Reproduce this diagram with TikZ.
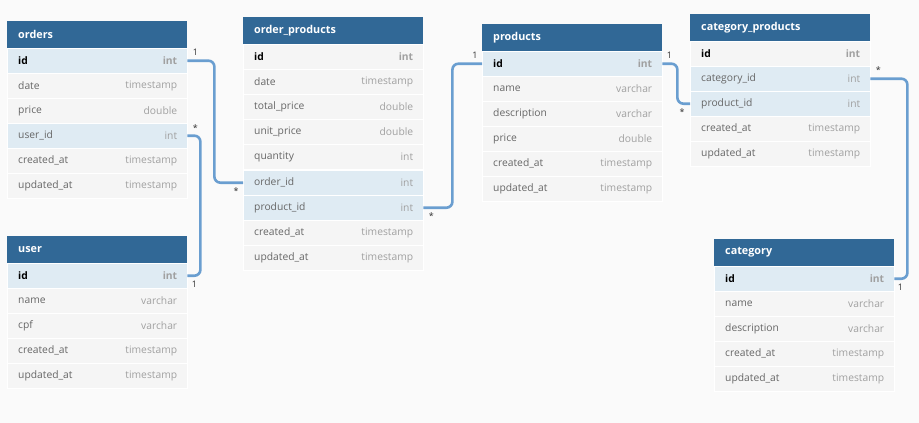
\documentclass[tikz,border=0pt]{standalone}
\usepackage{fontspec}
\setmainfont{Open Sans}
\usetikzlibrary{positioning}

\definecolor{canvas}{HTML}{FAFAFA}
\definecolor{headbg}{HTML}{316896}
\definecolor{rowbg}{HTML}{F5F5F5}
\definecolor{keybg}{HTML}{DFEBF3}
\definecolor{fieldcol}{HTML}{666666}
\definecolor{typecol}{HTML}{A0A0A0}
\definecolor{linkcol}{HTML}{6A9ED0}
\definecolor{cardcol}{HTML}{333333}

\tikzset{
  x=1pt, y=-1pt,
  head/.style={rectangle, fill=headbg, minimum width=180pt, minimum height=27pt, inner sep=0pt, anchor=north west},
  headtxt/.style={font=\fontsize{10.8}{12}\selectfont\bfseries, text=white, inner sep=0pt, anchor=west},
  plainrow/.style={fill=rowbg},
  keyrow/.style={fill=keybg},
  row/.style={rectangle, minimum width=180pt, minimum height=25pt, inner sep=0pt, anchor=north west, draw=white, line width=0.4pt},
  fieldtxt/.style={font=\fontsize{10.3}{12}\selectfont, text=fieldcol, inner sep=0pt, anchor=west},
  typetxt/.style={font=\fontsize{10.3}{12}\selectfont, text=typecol, inner sep=0pt, anchor=east},
  pkfield/.style={fieldtxt, font=\fontsize{10.3}{12}\selectfont\bfseries, text=black},
  pktype/.style={typetxt, font=\fontsize{10.3}{12}\selectfont\bfseries},
  link/.style={draw=linkcol, line width=2.6pt, rounded corners=6pt},
  card/.style={font=\fontsize{9}{10}\selectfont, text=cardcol, inner sep=0pt},
}

% table header: #1 name, #2 x, #3 y, #4 title
\newcommand\erhead[4]{%
  \node[head] (#1) at (#2,#3) {};
  \node[headtxt] (#1-title) at ([xshift=11pt]#1.west) {#4};
}
% table row: #1 name, #2 x, #3 y, #4 row style, #5 field, #6 type
\newcommand\errow[6]{%
  \node[row,#4] (#1) at (#2,#3) {};
  \node[fieldtxt] (#1-n) at ([xshift=11pt]#1.west) {#5};
  \node[typetxt] (#1-t) at ([xshift=-10pt]#1.east) {#6};
}
% primary key row: #1 name, #2 x, #3 y, #4 row style
\newcommand\erpk[4]{%
  \node[row,#4] (#1) at (#2,#3) {};
  \node[pkfield] (#1-n) at ([xshift=11pt]#1.west) {id};
  \node[pktype] (#1-t) at ([xshift=-10pt]#1.east) {int};
}

\begin{document}
\begin{tikzpicture}
\fill[canvas] (0,0) rectangle (919,423);
\useasboundingbox (0,0) rectangle (919,423);

% orders
\erhead{orders}{7}{21}{orders}
\erpk{orders-id}{7}{48}{keyrow}
\errow{orders-date}{7}{73}{plainrow}{date}{timestamp}
\errow{orders-price}{7}{98}{plainrow}{price}{double}
\errow{orders-userid}{7}{123}{keyrow}{user\_id}{int}
\errow{orders-created}{7}{148}{plainrow}{created\_at}{timestamp}
\errow{orders-updated}{7}{173}{plainrow}{updated\_at}{timestamp}

% user
\erhead{user}{7}{236}{user}
\erpk{user-id}{7}{263}{keyrow}
\errow{user-name}{7}{288}{plainrow}{name}{varchar}
\errow{user-cpf}{7}{313}{plainrow}{cpf}{varchar}
\errow{user-created}{7}{338}{plainrow}{created\_at}{timestamp}
\errow{user-updated}{7}{363}{plainrow}{updated\_at}{timestamp}

% order_products
\erhead{op}{243}{17}{order\_products}
\erpk{op-id}{243}{44}{plainrow}
\errow{op-date}{243}{69}{plainrow}{date}{timestamp}
\errow{op-total}{243}{94}{plainrow}{total\_price}{double}
\errow{op-unit}{243}{119}{plainrow}{unit\_price}{double}
\errow{op-qty}{243}{144}{plainrow}{quantity}{int}
\errow{op-orderid}{243}{170}{keyrow}{order\_id}{int}
\errow{op-productid}{243}{195}{keyrow}{product\_id}{int}
\errow{op-created}{243}{220}{plainrow}{created\_at}{timestamp}
\errow{op-updated}{243}{245}{plainrow}{updated\_at}{timestamp}

% products
\erhead{products}{482}{24}{products}
\erpk{products-id}{482}{51}{keyrow}
\errow{products-name}{482}{76}{plainrow}{name}{varchar}
\errow{products-desc}{482}{101}{plainrow}{description}{varchar}
\errow{products-price}{482}{126}{plainrow}{price}{double}
\errow{products-created}{482}{151}{plainrow}{created\_at}{timestamp}
\errow{products-updated}{482}{176}{plainrow}{updated\_at}{timestamp}

% category_products
\erhead{cp}{690}{14}{category\_products}
\erpk{cp-id}{690}{41}{plainrow}
\errow{cp-categoryid}{690}{66}{keyrow}{category\_id}{int}
\errow{cp-productid}{690}{91}{keyrow}{product\_id}{int}
\errow{cp-created}{690}{116}{plainrow}{created\_at}{timestamp}
\errow{cp-updated}{690}{141}{plainrow}{updated\_at}{timestamp}

% category
\erhead{category}{714}{239}{category}
\erpk{category-id}{714}{266}{keyrow}
\errow{category-name}{714}{291}{plainrow}{name}{varchar}
\errow{category-desc}{714}{316}{plainrow}{description}{varchar}
\errow{category-created}{714}{341}{plainrow}{created\_at}{timestamp}
\errow{category-updated}{714}{366}{plainrow}{updated\_at}{timestamp}

% relations
\draw[link] (orders-id.east) -- ++(27,0) |- (op-orderid.west);
\draw[link] (orders-userid.east) -- ++(13,0) |- (user-id.east);
\draw[link] (op-productid.east) -- ++(29,0) |- (products-id.west);
\draw[link] (products-id.east) -- ++(15,0) |- (cp-productid.west);
\draw[link] (cp-categoryid.east) -- ++(37,0) |- (category-id.east);

% cardinalities
\node[card] (c1) at ([shift={(8,-8)}]orders-id.east) {1};
\node[card] (c2) at ([shift={(-7,8)}]op-orderid.west) {*};
\node[card] (c3) at ([shift={(8,-8)}]orders-userid.east) {*};
\node[card] (c4) at ([shift={(7,9)}]user-id.east) {1};
\node[card] (c5) at ([shift={(8,8)}]op-productid.east) {*};
\node[card] (c6) at ([shift={(-7,-8)}]products-id.west) {1};
\node[card] (c7) at ([shift={(7,-8)}]products-id.east) {1};
\node[card] (c8) at ([shift={(-8,8)}]cp-productid.west) {*};
\node[card] (c9) at ([shift={(8,-9)}]cp-categoryid.east) {*};
\node[card] (c10) at ([shift={(6,9)}]category-id.east) {1};
\end{tikzpicture}
\end{document}
